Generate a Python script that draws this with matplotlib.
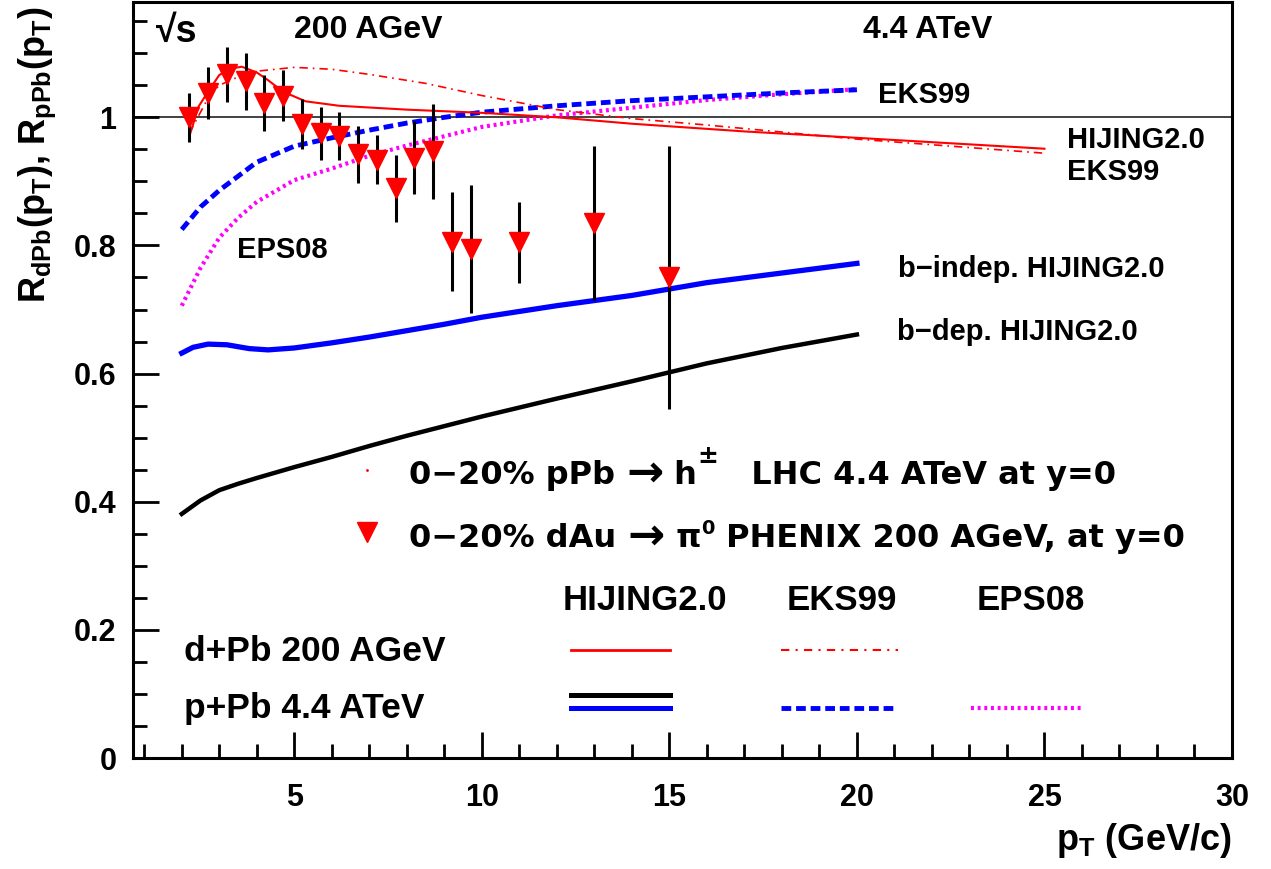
import matplotlib
matplotlib.use("Agg")
import matplotlib.pyplot as plt

plt.rcParams['font.family'] = ['Liberation Sans', 'DejaVu Sans']
plt.rcParams['font.weight'] = 'bold'
plt.rcParams['mathtext.fontset'] = 'custom'
plt.rcParams['mathtext.rm'] = 'Liberation Sans:bold'
plt.rcParams['mathtext.it'] = 'Liberation Sans:bold'
plt.rcParams['mathtext.bf'] = 'Liberation Sans:bold'
plt.rcParams['mathtext.default'] = 'regular'

# PHENIX dAu -> pi0, 0-20%, 200 AGeV
phenix_pt = [2.2, 2.7, 3.2, 3.7, 4.2, 4.7, 5.2, 5.7, 6.2, 6.7, 7.2, 7.7, 8.2, 8.7, 9.2, 9.7, 11.0, 13.0, 15.0]
phenix_r = [1.000, 1.038, 1.067, 1.056, 1.022, 1.034, 0.989, 0.975, 0.971, 0.942, 0.934, 0.889, 0.937, 0.947, 0.806, 0.795, 0.805, 0.835, 0.750]
phenix_err = [0.038, 0.041, 0.043, 0.045, 0.044, 0.040, 0.039, 0.041, 0.038, 0.045, 0.038, 0.052, 0.057, 0.074, 0.077, 0.100, 0.063, 0.120, 0.205]

# HIJING2.0 d+Pb 200 AGeV (red solid)
hij_dpb_pt = [2.2, 2.45, 2.7, 3.0, 3.3, 3.6, 4.0, 4.3, 4.7, 5.3, 6.2, 8.0, 10.0, 12.0, 14.0, 17.0, 20.0, 25.0]
hij_dpb_r = [0.970, 1.017, 1.040, 1.066, 1.076, 1.079, 1.070, 1.058, 1.040, 1.025, 1.018, 1.012, 1.007, 1.000, 0.990, 0.978, 0.968, 0.951]

# EKS99 d+Pb 200 AGeV (red dash-dot)
eks_dpb_pt = [2.2, 2.7, 3.0, 3.5, 4.0, 5.0, 6.0, 7.0, 8.5, 10.0, 12.0, 14.0, 16.0, 20.0, 25.0]
eks_dpb_r = [0.975, 1.030, 1.050, 1.063, 1.072, 1.078, 1.075, 1.067, 1.053, 1.034, 1.012, 0.998, 0.988, 0.966, 0.944]

# EKS99 p+Pb 4.4 ATeV (blue dashed)
eks_ppb_pt = [2.0, 2.5, 3.0, 3.5, 4.0, 5.0, 6.0, 7.0, 8.0, 9.0, 10.0, 12.0, 14.0, 16.0, 18.0, 20.0]
eks_ppb_r = [0.825, 0.860, 0.886, 0.908, 0.930, 0.955, 0.968, 0.980, 0.991, 1.000, 1.008, 1.018, 1.026, 1.032, 1.038, 1.043]

# EPS08 p+Pb 4.4 ATeV (magenta dotted)
eps_ppb_pt = [2.0, 2.5, 3.0, 3.5, 4.0, 5.0, 6.0, 7.0, 8.0, 10.0, 12.0, 14.0, 16.0, 18.0, 20.0]
eps_ppb_r = [0.706, 0.765, 0.812, 0.843, 0.868, 0.902, 0.920, 0.940, 0.956, 0.985, 1.003, 1.015, 1.027, 1.036, 1.044]

# b-indep. HIJING2.0 p+Pb (blue solid)
bind_pt = [2.0, 2.3, 2.7, 3.2, 3.8, 4.3, 5.0, 6.0, 7.0, 8.0, 9.0, 10.0, 12.0, 14.0, 16.0, 18.0, 20.0]
bind_r = [0.632, 0.641, 0.646, 0.645, 0.639, 0.637, 0.640, 0.648, 0.657, 0.667, 0.677, 0.688, 0.706, 0.722, 0.742, 0.757, 0.772]

# b-dep. HIJING2.0 p+Pb (black solid)
bdep_pt = [2.0, 2.5, 3.0, 3.5, 4.0, 5.0, 6.0, 7.0, 8.0, 9.0, 10.0, 12.0, 14.0, 16.0, 18.0, 20.0]
bdep_r = [0.381, 0.402, 0.418, 0.428, 0.437, 0.454, 0.470, 0.487, 0.503, 0.518, 0.533, 0.561, 0.588, 0.616, 0.640, 0.661]

fig = plt.figure(figsize=(12.71, 8.69), dpi=100)
ax = fig.add_axes([133 / 1271, 1 - 758 / 869, (1232 - 133) / 1271, (758 - 2) / 869])
ax.set_xlim(0.7, 30)
ax.set_ylim(0, 1.18)

ax.axhline(1.0, color='#333333', lw=1.3, zorder=1)

ax.plot(eps_ppb_pt, eps_ppb_r, color='#ff00ff', lw=3.0, dashes=(0.7, 0.9), zorder=2)
ax.plot(eks_ppb_pt, eks_ppb_r, color='#0000ff', lw=3.5, dashes=(2, 1), zorder=3)
ax.plot(bind_pt, bind_r, color='#0000ff', lw=3.8, zorder=3)
ax.plot(bdep_pt, bdep_r, color='black', lw=3.2, zorder=3)
ax.plot(eks_dpb_pt, eks_dpb_r, color='red', lw=1.2, dashes=(5, 3, 1, 3), zorder=4)
ax.plot(hij_dpb_pt, hij_dpb_r, color='red', lw=1.5, zorder=4)
ax.errorbar(phenix_pt, phenix_r, yerr=phenix_err, fmt='none', ecolor='black', elinewidth=2.2, zorder=5)
ax.plot(phenix_pt, phenix_r, 'v', color='red', markersize=14, mec='red', zorder=6)

# ticks
ax.set_xticks([5, 10, 15, 20, 25, 30])
ax.set_xticks(range(1, 31), minor=True)
ax.set_yticks([0, 0.2, 0.4, 0.6, 0.8, 1.0])
ax.set_yticklabels(['0', '0.2', '0.4', '0.6', '0.8', '1'])
ax.set_yticks([i * 0.05 for i in range(24)], minor=True)
ax.tick_params(which='both', direction='in', top=False, right=False, width=2, labelsize=22)
ax.tick_params(which='major', length=19)
ax.tick_params(which='minor', length=10)
ax.tick_params(axis='x', pad=18)
ax.tick_params(axis='y', pad=12)
for s in ax.spines.values():
    s.set_linewidth(2.2)

fig.text(37 / 1271, 1 - 6 / 869, 'R$_{dPb}$(p$_T$), R$_{pPb}$(p$_T$)', rotation=90,
         ha='center', va='top', fontsize=26)
fig.text(1232 / 1271, 1 - 840 / 869, 'p$_T$ (GeV/c)', ha='right', va='center', fontsize=26)

# annotations
ax.text(1.3, 1.133, '√s', fontsize=27, va='center')
ax.text(5.0, 1.136, '200 AGeV', fontsize=23, va='center')
ax.text(20.17, 1.136, '4.4 ATeV', fontsize=23, va='center')
ax.text(20.56, 1.035, 'EKS99', fontsize=21, va='center')
ax.text(25.6, 0.9645, 'HIJING2.0', fontsize=21, va='center')
ax.text(25.6, 0.915, 'EKS99', fontsize=21, va='center')
ax.text(28.2, 0.764, 'b−indep. HIJING2.0', fontsize=21, va='center', ha='right')
ax.text(27.5, 0.665, 'b−dep. HIJING2.0', fontsize=21, va='center', ha='right')
ax.text(3.47, 0.793, 'EPS08', fontsize=21, va='center')


def text_row(x, y, parts):
    """writes pieces of text one after another, each piece is (text, size, raise)"""
    renderer = fig.canvas.get_renderer()
    for s, size, dy in parts:
        t = ax.text(x, y + dy, s, va='baseline', ha='left', fontsize=size, family='DejaVu Sans')
        bb = t.get_window_extent(renderer)
        x = ax.transData.inverted().transform((bb.x1, 0))[0]


# legend block
ax.plot([6.94], [0.45], '.', color='red', markersize=2)
text_row(8.06, 0.428, [('0−20% pPb ', 23, 0), ('→', 32, -0.003), (' h', 23, 0),
                       ('±', 18, 0.032), ('   LHC 4.4 ATeV at y=0', 23, 0)])
ax.plot([6.94], [0.352], 'v', color='red', markersize=14)
text_row(8.06, 0.330, [('0−20% dAu ', 23, 0), ('→', 32, -0.003), (' π', 23, 0),
                       ('0', 14, 0.02), (' PHENIX 200 AGeV, at y=0', 23, 0)])

ax.text(14.35, 0.2466, 'HIJING2.0', fontsize=25, va='center', ha='center')
ax.text(19.61, 0.2466, 'EKS99', fontsize=25, va='center', ha='center')
ax.text(24.64, 0.2466, 'EPS08', fontsize=25, va='center', ha='center')
ax.text(2.05, 0.1669, 'd+Pb 200 AGeV', fontsize=25.5, va='center')
ax.text(2.05, 0.0778, 'p+Pb 4.4 ATeV', fontsize=25.5, va='center')

ax.plot([12.37, 15.03], [0.1687, 0.1687], color='red', lw=2.0)
ax.plot([12.37, 15.03], [0.0984, 0.0984], color='black', lw=3.6)
ax.plot([12.37, 15.03], [0.0775, 0.0775], color='#0000ff', lw=3.6)
ax.plot([17.98, 21.10], [0.1687, 0.1687], color='red', lw=1.5, dashes=(4, 3, 1, 3))
ax.plot([17.98, 20.95], [0.0775, 0.0775], color='#0000ff', lw=3.5, dashes=(2, 1))
ax.plot([23.03, 26.06], [0.0775, 0.0775], color='#ff00ff', lw=3.0, dashes=(0.7, 0.9))

fig.savefig('out.png', dpi=100)
